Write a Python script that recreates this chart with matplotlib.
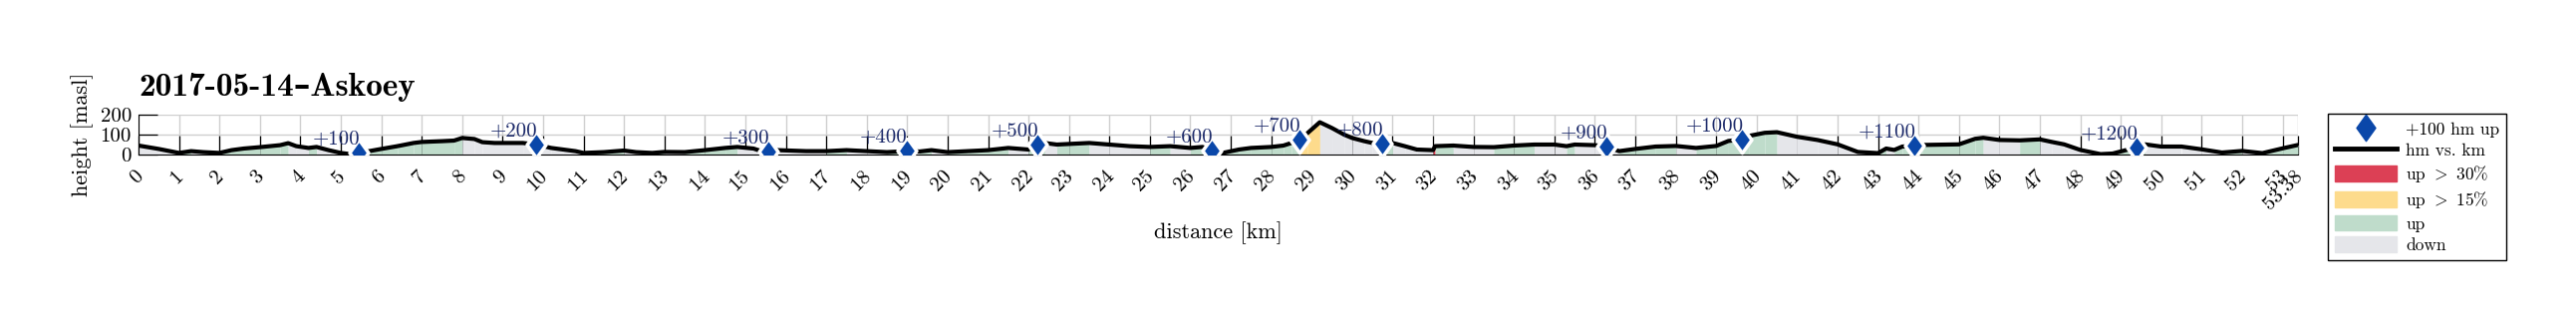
import numpy as np
import matplotlib
matplotlib.use('Agg')
import matplotlib.pyplot as plt
import matplotlib.transforms as mtransforms
from matplotlib.lines import Line2D
from matplotlib.patches import Patch

plt.rcParams['font.family'] = ['cmr10', 'DejaVu Serif']
plt.rcParams['mathtext.fontset'] = 'cm'
plt.rcParams['axes.formatter.use_mathtext'] = True
plt.rcParams['axes.unicode_minus'] = False

# profile: distance [km], height [masl]
km = [0.0, 0.5, 1.0, 1.3, 1.6, 2.0, 2.3, 2.6, 3.0, 3.5, 3.7, 3.9, 4.2, 4.4, 4.7,
      5.0, 5.2, 5.45, 5.7, 6.0, 6.4, 6.8, 7.0, 7.5, 7.8, 8.0, 8.3, 8.5, 8.8, 9.5,
      9.83, 10.2, 10.5, 10.8, 11.0, 11.5, 12.0, 12.3, 12.7, 13.0, 13.5, 14.0, 14.5,
      14.8, 15.2, 15.4, 15.58, 15.8, 16.5, 17.0, 17.5, 18.0, 18.5, 18.8, 18.98,
      19.3, 19.6, 20.0, 20.5, 21.0, 21.5, 22.0, 22.23, 22.4, 22.7, 23.0, 23.5,
      24.0, 24.5, 25.0, 25.5, 26.0, 26.3, 26.52, 26.8, 27.2, 27.5, 28.0, 28.3,
      28.5, 28.7, 28.9, 29.2, 29.5, 29.8, 30.0, 30.3, 30.5, 30.73, 31.0, 31.3,
      31.6, 32.0, 32.05, 32.5, 33.0, 33.5, 34.0, 34.5, 35.0, 35.3, 35.5, 36.0,
      36.28, 36.6, 37.0, 37.5, 38.0, 38.5, 39.0, 39.3, 39.64, 39.8, 40.2, 40.5,
      41.0, 41.5, 42.0, 42.5, 43.0, 43.2, 43.4, 43.6, 43.9, 44.1, 45.0, 45.4,
      45.6, 46.0, 46.5, 47.0, 47.3, 47.6, 48.0, 48.5, 48.8, 49.2, 49.4, 49.6,
      50.0, 50.5, 51.0, 51.5, 52.0, 52.5, 53.0, 53.38]
hm = [45, 28, 8, 17, 12, 8, 22, 30, 37, 47, 57, 42, 33, 38, 22,
      8, 3, 10, 17, 28, 42, 58, 63, 67, 70, 83, 78, 62, 58, 58,
      50, 33, 25, 17, 8, 12, 20, 12, 8, 13, 12, 22, 33,
      38, 30, 17, 17, 22, 17, 17, 22, 17, 12, 15, 22,
      15, 22, 12, 17, 22, 33, 25, 50, 58, 50, 53, 58,
      50, 42, 38, 42, 33, 38, 22, 8, 25, 33, 38, 45,
      58, 75, 108, 162, 133, 100, 83, 67, 58, 53, 58, 42,
      25, 22, 42, 45, 38, 37, 45, 50, 50, 42, 50, 47,
      40, 17, 28, 40, 43, 33, 43, 68, 76, 93, 109, 112,
      89, 73, 51, 13, 7, 30, 23, 40, 43, 48, 51, 79,
      84, 73, 71, 76, 63, 51, 23, 2, 5, 26, 35, 51,
      40, 40, 26, 10, 18, 7, 31, 48]

# every +100 hm climbed
mark_km = [5.45, 9.83, 15.58, 18.98, 22.23, 26.52, 28.7, 30.73, 36.28, 39.64, 43.9, 49.4]
mark_hm = [10, 50, 17, 22, 50, 22, 75, 53, 40, 76, 43, 35]
mark_txt = ['+100', '+200', '+300', '+400', '+500', '+600', '+700', '+800',
            '+900', '+1000', '+1100', '+1200']

c_red = '#dc4055'
c_yel = '#fddb8c'
c_green = '#bfdccb'
c_down = '#e5e6ea'
c_mark = '#0a47a9'
c_txt = '#1c2a6a'

# wide diamond, like the one in the picture
diamond = [(0, 1), (0.72, 0), (0, -1), (-0.72, 0), (0, 1)]

fig = plt.figure(figsize=(25.85, 3.28), dpi=100)
ax = fig.add_axes([139/2585, 1-155/328, (2306-139)/2585, 40/328])

x = np.array(km)
y = np.array(hm)
# colour the area under each step by its grade
for i in range(len(x)-1):
    grade = (y[i+1]-y[i]) / ((x[i+1]-x[i])*1000.) * 100
    if grade > 30:
        col = c_red
    elif grade > 15:
        col = c_yel
    elif grade > 0:
        col = c_green
    else:
        col = c_down
    ax.fill_between(x[i:i+2], 0, y[i:i+2], color=col, lw=0, zorder=1)

ax.plot(x, y, color='k', lw=3.0, zorder=3, solid_capstyle='round')
ax.plot(mark_km, mark_hm, ls='none', marker=diamond, ms=19, mfc=c_mark,
        mec='white', mew=2.5, zorder=4)
for mk, mh, t in zip(mark_km, mark_hm, mark_txt):
    ax.annotate(t, (mk, mh), xytext=(1, 6), textcoords='offset points',
                ha='right', va='baseline', color=c_txt, fontsize=15, zorder=5)

ax.set_xlim(0, 53.38)
ax.set_ylim(0, 200)
xt = list(range(54)) + [53.38]
ax.set_xticks(xt)
ax.set_xticklabels([str(v) for v in range(54)] + ['53.38'], rotation=45,
                   ha='right', fontsize=15)
ax.set_yticks([0, 100, 200])
ax.set_yticklabels(['0', '100', '200'], fontsize=15)
ax.tick_params(direction='in', length=14, width=0.9, color='k')
ax.tick_params(axis='x', pad=9)
ax.tick_params(axis='y', pad=5)
shift = mtransforms.ScaledTranslation(8/100., 0, fig.dpi_scale_trans)
for lbl in ax.get_xticklabels():
    lbl.set_transform(lbl.get_transform() + shift)

ax.grid(True, color='#cfcfcf', lw=1.0, zorder=0)
ax.set_axisbelow(True)
ax.spines['top'].set_visible(False)
ax.spines['right'].set_visible(False)

ax.set_xlabel('distance [km]', fontsize=16, labelpad=6)
ax.set_ylabel('height [masl]', fontsize=16, labelpad=5)
ax.set_title('2017-05-14\u2013Askoey', loc='left', fontsize=24,
             family=['cmb10', 'DejaVu Serif'], fontweight='bold', pad=14)

handles = [Line2D([], [], ls='none', marker=diamond, ms=19, mfc=c_mark, mec=c_mark),
           Line2D([], [], color='k', lw=3.5),
           Patch(color=c_red), Patch(color=c_yel), Patch(color=c_green), Patch(color=c_down)]
labels = ['+100 hm up', 'hm vs. km', r'up $>$ 30%', r'up $>$ 15%', 'up', 'down']
leg = ax.legend(handles, labels, loc='upper left',
                bbox_to_anchor=(2336/2585, 1-114/328), bbox_transform=fig.transFigure,
                borderaxespad=0, fancybox=False, edgecolor='k', framealpha=1,
                fontsize=12.5, handlelength=3.6, handleheight=1.0,
                handletextpad=0.5, labelspacing=0.28, borderpad=0.4)
leg.get_frame().set_linewidth(1.0)

fig.savefig('out.png', dpi=100)
